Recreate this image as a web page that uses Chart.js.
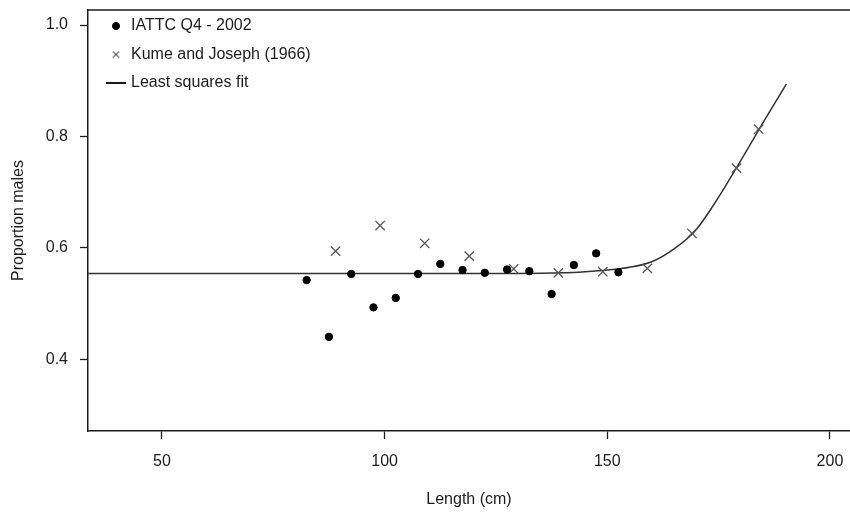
<!DOCTYPE html>
<html>
<head>
<meta charset="utf-8">
<script src="https://cdn.jsdelivr.net/npm/chart.js@4.4.1/dist/chart.umd.min.js"></script>
<style>
  html, body { margin: 0; padding: 0; background: #ffffff; overflow: hidden; }
  #wrap { width: 850px; height: 515px; }
</style>
</head>
<body>
<div id="wrap"><canvas id="c" width="850" height="515"></canvas></div>
<script>
// ---- data ----
const iattcX = [82.5, 87.5, 92.5, 97.5, 102.5, 107.5, 112.5, 117.5, 122.5, 127.5, 132.5, 137.5, 142.5, 147.5, 152.5];
const iattcY = [0.542, 0.440, 0.553, 0.493, 0.510, 0.553, 0.571, 0.560, 0.555, 0.561, 0.558, 0.517, 0.569, 0.590, 0.556];

const kumeX = [89, 99, 109, 119, 129, 139, 149, 159, 169, 179, 184];
const kumeY = [0.594, 0.640, 0.608, 0.585, 0.562, 0.555, 0.557, 0.563, 0.626, 0.743, 0.813];

const fitX = [33.4, 60, 100, 130, 140, 145, 150, 155, 160, 165, 170, 175, 180, 185, 190.2];
const fitY = [0.554, 0.554, 0.554, 0.554, 0.555, 0.557, 0.560, 0.565, 0.575, 0.598, 0.633, 0.691, 0.757, 0.825, 0.894];

const xTicks = [50, 100, 150, 200];
const yTicks = [0.4, 0.6, 0.8, 1.0];

const seriesNames = ['IATTC Q4 - 2002', 'Kume and Joseph (1966)', 'Least squares fit'];
const xTitle = 'Length (cm)';
const yTitle = 'Proportion males';

// ---- build chart ----
const toPts = (xs, ys) => xs.map((x, i) => ({ x: x, y: ys[i] }));
const ink = '#1c1c1c';
const lineInk = '#333333';
const crossInk = '#555555';
const font = { family: 'Liberation Sans, Arial, sans-serif', size: 16 };

// small legend glyphs
const lineGlyph = document.createElement('canvas');
lineGlyph.width = 20; lineGlyph.height = 2;
(function () {
  const g = lineGlyph.getContext('2d');
  g.fillStyle = '#1a1a1a';
  g.fillRect(0, 0, 20, 2);
})();
const crossGlyph = document.createElement('canvas');
crossGlyph.width = 8; crossGlyph.height = 8;
(function () {
  const g = crossGlyph.getContext('2d');
  g.strokeStyle = crossInk; g.lineWidth = 1.2;
  g.beginPath();
  g.moveTo(0.8, 0.8); g.lineTo(7.2, 7.2);
  g.moveTo(7.2, 0.8); g.lineTo(0.8, 7.2);
  g.stroke();
})();

const framePlugin = {
  id: 'frame',
  afterLayout(chart) {
    const lg = chart.legend;
    if (lg) {
      lg.left = 96.5;
      lg.top = 5.5;
    }
  },
  afterDraw(chart) {
    const { ctx, chartArea } = chart;
    ctx.save();
    ctx.strokeStyle = ink;
    ctx.lineWidth = 1.5;
    ctx.beginPath();
    ctx.moveTo(chartArea.left, chartArea.top);
    ctx.lineTo(chartArea.right, chartArea.top);
    ctx.stroke();
    ctx.restore();
  }
};

const noPad = (s) => { s.paddingLeft = 0; s.paddingRight = 0; s.paddingTop = 0; s.paddingBottom = 0; };

new Chart(document.getElementById('c'), {
  type: 'scatter',
  data: {
    datasets: [
      {
        label: seriesNames[0],
        data: toPts(iattcX, iattcY),
        pointStyle: 'circle',
        pointRadius: 3.7,
        pointBorderWidth: 1,
        backgroundColor: '#000000',
        borderColor: '#000000',
        order: 1
      },
      {
        label: seriesNames[1],
        data: toPts(kumeX, kumeY),
        pointStyle: 'crossRot',
        pointRadius: 6.6,
        pointBorderWidth: 1.3,
        backgroundColor: crossInk,
        borderColor: crossInk,
        order: 2
      },
      {
        label: seriesNames[2],
        data: toPts(fitX, fitY),
        showLine: true,
        pointRadius: 0,
        pointHoverRadius: 0,
        pointStyle: 'line',
        borderColor: lineInk,
        backgroundColor: lineInk,
        borderWidth: 1.5,
        cubicInterpolationMode: 'monotone',
        order: 3
      }
    ]
  },
  options: {
    responsive: false,
    animation: false,
    layout: { autoPadding: false, padding: { top: 10, left: 0, right: 0, bottom: 0 } },
    plugins: {
      tooltip: { enabled: false },
      legend: {
        position: 'chartArea',
        align: 'start',
        labels: {
          usePointStyle: true,
          boxWidth: 14,
          boxHeight: 5,
          padding: 12.5,
          color: ink,
          font: font,
          generateLabels(chart) {
            const items = Chart.defaults.plugins.legend.labels.generateLabels(chart);
            items.forEach((it) => {
              if (it.datasetIndex === 1) it.pointStyle = crossGlyph;
              if (it.datasetIndex === 2) it.pointStyle = lineGlyph;
            });
            return items;
          }
        }
      }
    },
    scales: {
      x: {
        type: 'linear',
        min: 33.4,
        max: 204.5,
        afterBuildTicks: (s) => { s.ticks = xTicks.map(v => ({ value: v })); },
        afterFit: (s) => { s.height = 84; noPad(s); },
        ticks: { color: ink, font: font, padding: 13, maxRotation: 0, callback: (v) => String(v) },
        grid: { drawOnChartArea: false, drawTicks: true, tickLength: 8, tickColor: ink, tickWidth: 1.3 },
        border: { display: true, color: ink, width: 1.5 },
        title: { display: true, text: xTitle, color: ink, font: font, padding: { top: 0, bottom: 6 } }
      },
      y: {
        type: 'linear',
        min: 0.271,
        max: 1.027,
        afterBuildTicks: (s) => { s.ticks = yTicks.map(v => ({ value: v })); },
        afterFit: (s) => { s.width = 88; noPad(s); },
        ticks: { color: ink, font: font, padding: 12, callback: (v) => Number(v).toFixed(1) },
        grid: { drawOnChartArea: false, drawTicks: true, tickLength: 8, tickColor: ink, tickWidth: 1.3 },
        border: { display: true, color: ink, width: 1.5 },
        title: { display: true, text: yTitle, color: ink, font: font, padding: { top: 9, bottom: 0 } }
      }
    }
  },
  plugins: [framePlugin]
});
</script>
</body>
</html>
